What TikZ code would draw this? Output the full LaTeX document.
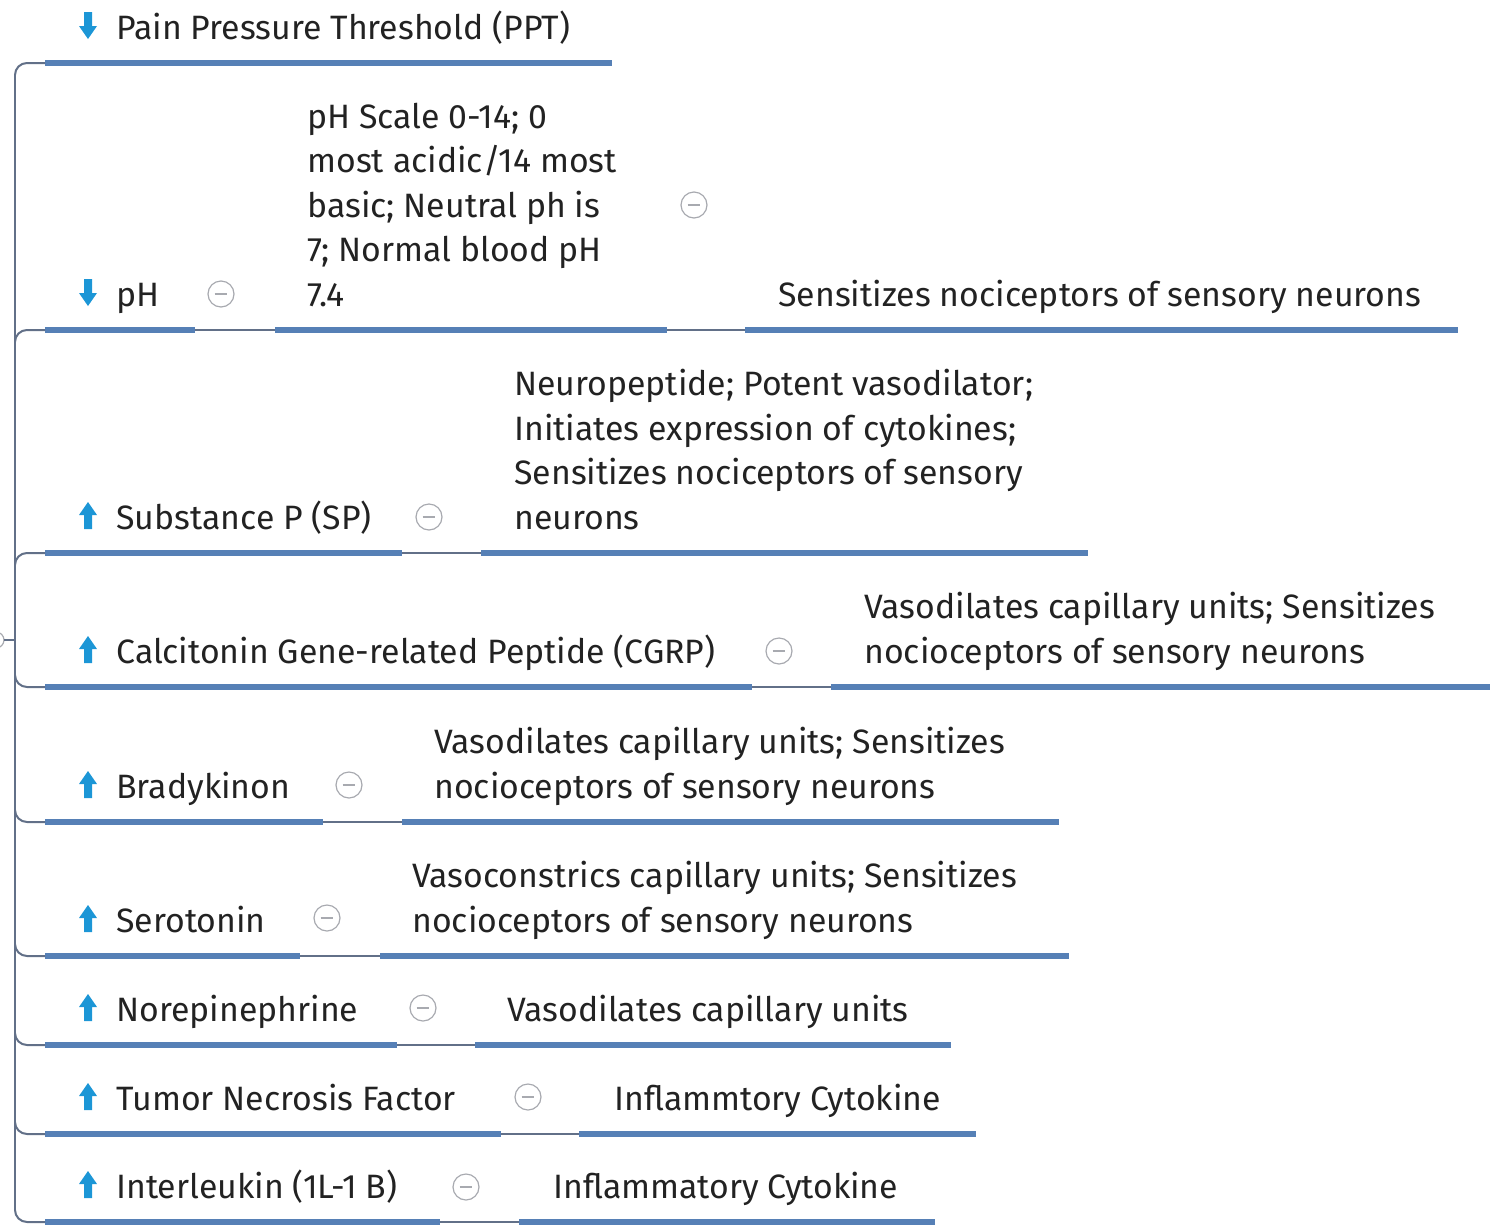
\documentclass[tikz,border=0pt]{standalone}
\usepackage{fontspec}
\setmainfont{Fira Sans}
\definecolor{ublue}{RGB}{86,128,182}
\definecolor{lgray}{RGB}{98,112,136}
\definecolor{ablue}{RGB}{28,150,214}
\definecolor{cgray}{RGB}{168,170,176}
\definecolor{txt}{RGB}{34,34,34}
\begin{document}
\begin{tikzpicture}[x=0.5pt,y=-0.5pt,
  uline/.style={line width=3pt,draw=ublue},
  link/.style={line width=1pt,draw=lgray},
  lbl/.style={anchor=base west,inner sep=0pt,text=txt,align=left,
    font=\fontsize{16.9}{22.25}\selectfont},
  fold/.style={circle,draw=cgray,line width=0.6pt,minimum size=13pt,inner sep=0pt,
    path picture={\draw[cgray,line width=0.7pt]
      ([xshift=-3.2pt]path picture bounding box.center) --
      ([xshift=3.2pt]path picture bounding box.center);}},
  uparrow/.pic={\fill[ablue] (-4,0) -- (-4,-14) -- (-9,-14) -- (0,-27) -- (9,-14) -- (4,-14) -- (4,0) -- cycle;},
  downarrow/.pic={\fill[ablue] (-4,-27) -- (-4,-13) -- (-9,-13) -- (0,0) -- (9,-13) -- (4,-13) -- (4,-27) -- cycle;}
]
\useasboundingbox (0,0) rectangle (1494,1227);

% topic underline between two named coordinates
\newcommand\uline[4]{%
  \coordinate (#1-l) at (#2,#4);
  \coordinate (#1-r) at (#3,#4);
  \draw[uline] (#1-l) -- (#1-r);}

% ---- trunk and hub ----
\coordinate (hub) at (15,640);
\coordinate (trunk-top) at (15,75);
\coordinate (trunk-bot) at (15,1210);
\draw[link] (trunk-top) -- (trunk-bot);
\draw[cgray,line width=0.6pt] (-4,640) circle[radius=8];
\coordinate (hub-tick) at (4,640);
\draw[link] (hub-tick) -- (hub);

% ---- Pain Pressure Threshold ----
\uline{ppt}{45}{612}{63}
\pic at (88,39) {downarrow};
\node[lbl] (ppt) at (116,39) {Pain Pressure Threshold (PPT)};

% ---- pH ----
\uline{ph}{45}{195}{330}
\uline{phA}{275}{667}{330}
\uline{phB}{745}{1458}{330}
\pic at (88,306) {downarrow};
\node[lbl] (ph) at (116,306) {pH};
\node[fold] (ph-f) at (221,294) {};
\node[lbl] (ph-t) at (307,306) {pH Scale 0-14; 0\\most acidic/14 most\\basic; Neutral ph is\\7; Normal blood pH\\7.4};
\node[fold] (ph-tf) at (694,205) {};
\node[lbl] (ph-t2) at (778,306) {Sensitizes nociceptors of sensory neurons};
\draw[link] (ph-r) -- (phA-l);
\draw[link] (phA-r) -- (phB-l);

% ---- Substance P ----
\uline{sp}{45}{402}{553}
\uline{spA}{481}{1088}{553}
\pic at (88,529) {uparrow};
\node[lbl] (sp) at (116,529) {Substance P (SP)};
\node[fold] (sp-f) at (429,517) {};
\node[lbl] (sp-t) at (514,529) {Neuropeptide; Potent vasodilator;\\Initiates expression of cytokines;\\Sensitizes nociceptors of sensory\\neurons};
\draw[link] (sp-r) -- (spA-l);

% ---- CGRP ----
\uline{cg}{45}{752}{687}
\uline{cgA}{831}{1490}{687}
\pic at (88,663) {uparrow};
\node[lbl] (cg) at (116,663) {Calcitonin Gene-related Peptide (CGRP)};
\node[fold] (cg-f) at (779,651) {};
\node[lbl] (cg-t) at (864,663) {Vasodilates capillary units; Sensitizes\\nocioceptors of sensory neurons};
\draw[link] (cg-r) -- (cgA-l);

% ---- Bradykinon ----
\uline{br}{45}{323}{822}
\uline{brA}{402}{1059}{822}
\pic at (88,798) {uparrow};
\node[lbl] (br) at (116,798) {Bradykinon};
\node[fold] (br-f) at (349,785) {};
\node[lbl] (br-t) at (434,798) {Vasodilates capillary units; Sensitizes\\nocioceptors of sensory neurons};
\draw[link] (br-r) -- (brA-l);

% ---- Serotonin ----
\uline{se}{45}{300}{956}
\uline{seA}{380}{1069}{956}
\pic at (88,932) {uparrow};
\node[lbl] (se) at (116,932) {Serotonin};
\node[fold] (se-f) at (327,918) {};
\node[lbl] (se-t) at (412,932) {Vasoconstrics capillary units; Sensitizes\\nocioceptors of sensory neurons};
\draw[link] (se-r) -- (seA-l);

% ---- Norepinephrine ----
\uline{ne}{45}{397}{1045}
\uline{neA}{475}{951}{1045}
\pic at (88,1021) {uparrow};
\node[lbl] (ne) at (116,1021) {Norepinephrine};
\node[fold] (ne-f) at (423,1008) {};
\node[lbl] (ne-t) at (507,1021) {Vasodilates capillary units};
\draw[link] (ne-r) -- (neA-l);

% ---- Tumor Necrosis Factor ----
\uline{tn}{45}{501}{1134}
\uline{tnA}{579}{976}{1134}
\pic at (88,1110) {uparrow};
\node[lbl] (tn) at (116,1110) {Tumor Necrosis Factor};
\node[fold] (tn-f) at (528,1097) {};
\node[lbl] (tn-t) at (614,1110) {Inflammtory Cytokine};
\draw[link] (tn-r) -- (tnA-l);

% ---- Interleukin ----
\uline{il}{45}{440}{1222}
\uline{ilA}{519}{935}{1222}
\pic at (88,1198) {uparrow};
\node[lbl] (il) at (116,1198) {Interleukin (1L-1 B)};
\node[fold] (il-f) at (466,1187) {};
\node[lbl] (il-t) at (553,1198) {Inflammatory Cytokine};
\draw[link] (il-r) -- (ilA-l);

% ---- elbows from the trunk to each topic ----
\foreach \t/\yy in {ppt/63,ph/330,sp/553}
  \draw[link] (15,\yy+12) to[out=90,in=180] (27,\yy) -- (\t-l);
\foreach \t/\yy in {cg/687,br/822,se/956,ne/1045,tn/1134,il/1222}
  \draw[link] (15,\yy-12) to[out=-90,in=180] (27,\yy) -- (\t-l);
\end{tikzpicture}
\end{document}
